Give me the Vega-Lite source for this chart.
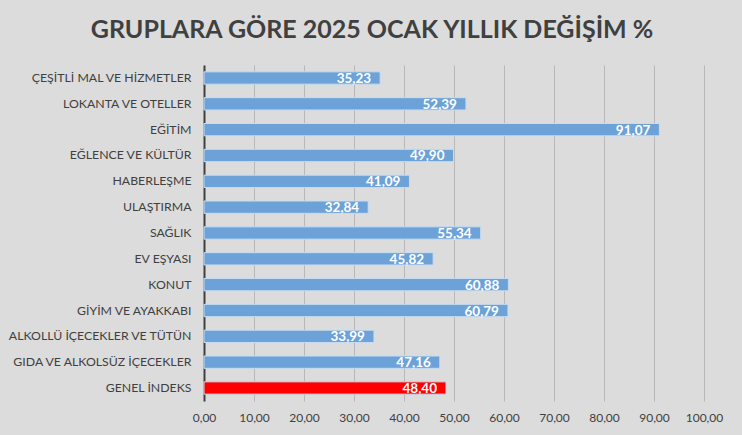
{
  "$schema": "https://vega.github.io/schema/vega-lite/v6.json",
  "width": 500,
  "height": 336,
  "autosize": "none",
  "padding": {"left": 204, "top": 65, "right": 38, "bottom": 34},
  "background": "#dcdcdc",
  "config": {
    "view": {"stroke": null},
    "locale": {"number": {"decimal": ",", "thousands": ".", "grouping": [3], "currency": ["", " TL"]}}
  },
  "title": {
    "text": "GRUPLARA GÖRE 2025 OCAK YILLIK DEĞİŞİM %",
    "font": "Lato",
    "fontSize": 25,
    "fontWeight": "bold",
    "color": "#404040",
    "anchor": "middle",
    "frame": "group",
    "dx": -82,
    "offset": 22
  },
  "data": {
    "values": [
      {"grup": "ÇEŞİTLİ MAL VE HİZMETLER", "deger": 35.23, "etiket": "35,23", "tip": "grup"},
      {"grup": "LOKANTA VE OTELLER", "deger": 52.39, "etiket": "52,39", "tip": "grup"},
      {"grup": "EĞİTİM", "deger": 91.07, "etiket": "91,07", "tip": "grup"},
      {"grup": "EĞLENCE VE KÜLTÜR", "deger": 49.90, "etiket": "49,90", "tip": "grup"},
      {"grup": "HABERLEŞME", "deger": 41.09, "etiket": "41,09", "tip": "grup"},
      {"grup": "ULAŞTIRMA", "deger": 32.84, "etiket": "32,84", "tip": "grup"},
      {"grup": "SAĞLIK", "deger": 55.34, "etiket": "55,34", "tip": "grup"},
      {"grup": "EV EŞYASI", "deger": 45.82, "etiket": "45,82", "tip": "grup"},
      {"grup": "KONUT", "deger": 60.88, "etiket": "60,88", "tip": "grup"},
      {"grup": "GİYİM VE AYAKKABI\u00a0\u00a0\u00a0", "deger": 60.79, "etiket": "60,79", "tip": "grup"},
      {"grup": "ALKOLLÜ İÇECEKLER VE TÜTÜN", "deger": 33.99, "etiket": "33,99", "tip": "grup"},
      {"grup": "GIDA VE ALKOLSÜZ İÇECEKLER", "deger": 47.16, "etiket": "47,16", "tip": "grup"},
      {"grup": "GENEL İNDEKS", "deger": 48.40, "etiket": "48,40", "tip": "genel"}
    ]
  },
  "encoding": {
    "y": {
      "field": "grup",
      "type": "nominal",
      "sort": null,
      "scale": {"paddingInner": 0.524, "paddingOuter": 0.265},
      "axis": {
        "title": null,
        "domain": true,
        "domainColor": "#404040",
        "domainWidth": 2,
        "ticks": false,
        "grid": false,
        "labelPadding": 13,
        "labelLimit": 400,
        "labelFont": "Lato",
        "labelFontSize": 12.3,
        "labelColor": "#404040"
      }
    }
  },
  "layer": [
    {
      "mark": {"type": "bar", "stroke": "#c6dcf1", "strokeWidth": 1},
      "encoding": {
        "x": {
          "field": "deger",
          "type": "quantitative",
          "scale": {"domain": [0, 100], "nice": false},
          "axis": {
            "title": null,
            "values": [0, 10, 20, 30, 40, 50, 60, 70, 80, 90, 100],
            "format": ".2f",
            "grid": true,
            "gridColor": "#b8b8b8",
            "gridWidth": 1,
            "domain": false,
            "ticks": false,
            "labelOverlap": false,
            "labelFlush": false,
            "labelPadding": 11,
            "labelFont": "Lato",
            "labelFontSize": 12,
            "labelColor": "#404040"
          }
        },
        "color": {
          "field": "tip",
          "type": "nominal",
          "scale": {"domain": ["grup", "genel"], "range": ["#6ca2d8", "#ff0000"]},
          "legend": null
        }
      }
    },
    {
      "mark": {"type": "text", "align": "right", "baseline": "middle", "dx": -9, "dy": 1, "color": "white", "font": "Lato", "fontWeight": "bold", "fontSize": 13.5},
      "encoding": {
        "x": {"field": "deger", "type": "quantitative"},
        "text": {"field": "etiket", "type": "nominal"}
      }
    }
  ]
}
